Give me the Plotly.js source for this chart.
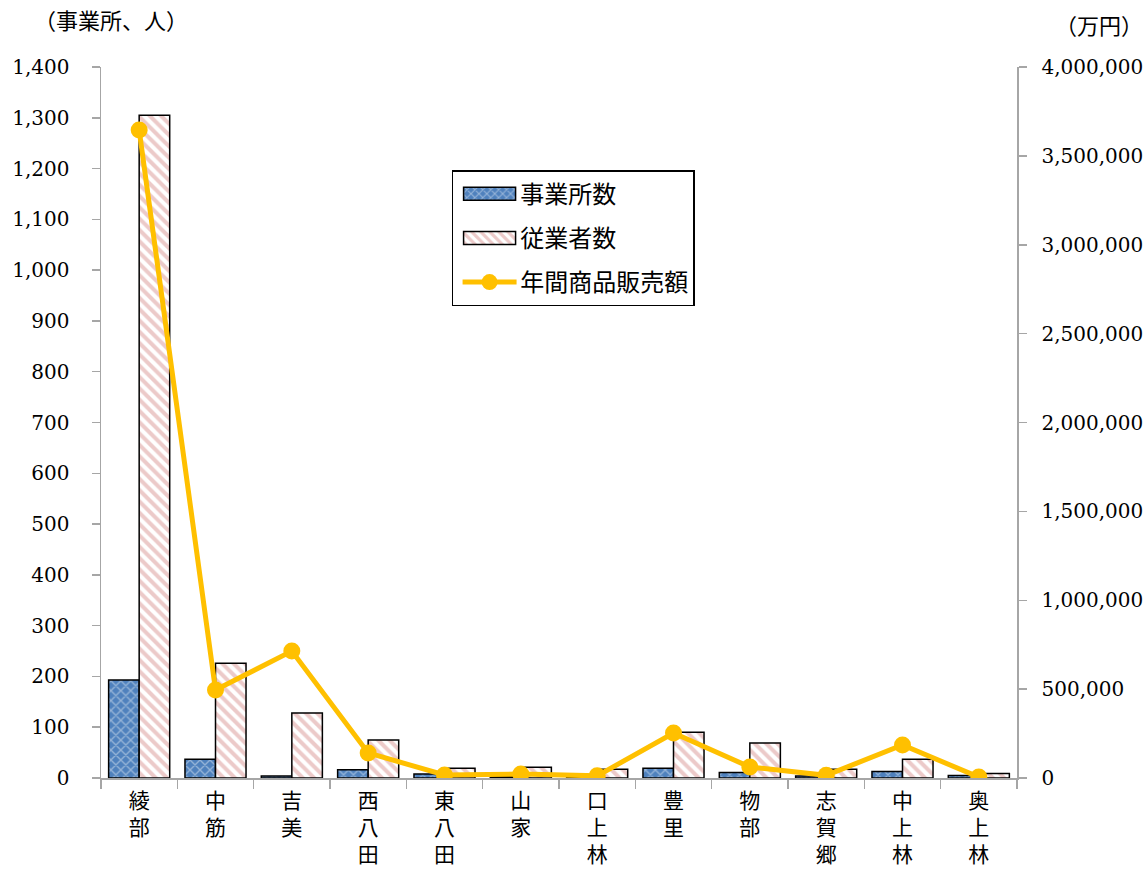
<!DOCTYPE html>
<html>
<head>
<meta charset="utf-8">
<script src="https://cdn.plot.ly/plotly-3.0.1.min.js"></script>
<style>html,body{margin:0;padding:0;background:#fff;}#chart{width:1147px;height:872px;}</style>
</head>
<body>
<div id="chart"></div>
<script>
const categories = ["綾部","中筋","吉美","西八田","東八田","山家","口上林","豊里","物部","志賀郷","中上林","奥上林"];
const establishments = [193, 37, 4, 16, 8, 3, 2, 19, 11, 4, 13, 5];
const employees = [1305, 226, 128, 75, 19, 21, 17, 90, 69, 17, 37, 9];
const sales = [3645000, 495000, 714000, 141000, 17000, 22000, 12000, 253000, 62000, 15000, 186000, 5000];
const leftTicks = [0,100,200,300,400,500,600,700,800,900,1000,1100,1200,1300,1400];
const rightTicks = [0,500000,1000000,1500000,2000000,2500000,3000000,3500000,4000000];

const fmt = v => v.toLocaleString('en-US');
const vertical = s => s.split('').join('<br>');
const numFont = '"DejaVu Serif", "Noto Sans CJK JP", serif';
const cjkFont = '"Noto Sans CJK JP", "DejaVu Serif", serif';

const traces = [
  {
    type: 'bar', name: '事業所数', x: categories, y: establishments, legendgroup: 'a',
    marker: {color: '#4f81bd', line: {color: '#000', width: 1.5},
      pattern: {shape: 'x', fgcolor: '#dce6f2', bgcolor: '#4f81bd', size: 7, solidity: 0.35, fillmode: 'overlay'}},
    hoverinfo: 'none'
  },
  {
    type: 'bar', name: '従業者数', x: categories, y: employees, legendgroup: 'b',
    marker: {color: '#ffffff', line: {color: '#000', width: 1.5},
      pattern: {shape: '\\', fgcolor: '#d99694', bgcolor: '#ffffff', size: 8, solidity: 0.5, fillmode: 'overlay'}},
    hoverinfo: 'none'
  },
  {
    type: 'scatter', mode: 'lines+markers', name: '年間商品販売額', x: categories, y: sales, yaxis: 'y2', legendgroup: 'c',
    line: {color: '#ffc000', width: 5}, marker: {color: '#ffc000', size: 17},
    hoverinfo: 'none'
  }
];

const layout = {
  width: 1147, height: 872,
  margin: {l: 101, r: 130, t: 67, b: 94},
  paper_bgcolor: '#fff', plot_bgcolor: '#fff',
  font: {family: numFont, size: 20, color: '#000'},
  barmode: 'group', bargap: 0.2, bargroupgap: 0,
  showlegend: true,
  legend: {x: 0.383, y: 0.855, xanchor: 'left', yanchor: 'top', bordercolor: '#000', borderwidth: 1.5,
    bgcolor: '#fff', font: {size: 24, family: cjkFont}, tracegroupgap: 10, itemwidth: 57,
    traceorder: 'grouped'},
  xaxis: {
    type: 'category', range: [-0.5, 11.5], tickmode: 'array', tickvals: categories, ticktext: categories.map(vertical),
    tickfont: {size: 21, family: cjkFont}, ticks: 'outside', tickson: 'boundaries', ticklen: 9,
    tickcolor: '#a6a6a6', tickwidth: 1.5, showline: true, linecolor: '#a6a6a6', linewidth: 1.5,
    showgrid: false, zeroline: false, fixedrange: true, ticklabelstandoff: 3
  },
  yaxis: {
    range: [0, 1400], tickmode: 'array', tickvals: leftTicks, ticktext: leftTicks.map(fmt),
    ticks: 'outside', ticklen: 8, tickcolor: '#a6a6a6', tickwidth: 1.5, showline: true,
    linecolor: '#a6a6a6', linewidth: 1.5, showgrid: false, zeroline: false,
    tickfont: {size: 20, family: numFont}, ticklabelstandoff: 18
  },
  yaxis2: {
    range: [0, 4000000], overlaying: 'y', side: 'right', tickmode: 'array', tickvals: rightTicks,
    ticktext: rightTicks.map(fmt), ticks: 'outside', ticklen: 8, tickcolor: '#a6a6a6', tickwidth: 1.5,
    showline: true, linecolor: '#a6a6a6', linewidth: 1.5, showgrid: false, zeroline: false,
    tickfont: {size: 20, family: numFont}, ticklabelstandoff: 11
  },
  annotations: [
    {text: '（事業所、人）', xref: 'paper', yref: 'paper', x: -0.075, y: 1.0, yshift: 48,
     xanchor: 'left', yanchor: 'middle', showarrow: false, font: {size: 22, family: cjkFont}},
    {text: '（万円）', xref: 'paper', yref: 'paper', x: 1.0, y: 1.0, xshift: 128, yshift: 43,
     xanchor: 'right', yanchor: 'middle', showarrow: false, font: {size: 22, family: cjkFont}}
  ]
};

Plotly.newPlot('chart', traces, layout, {displayModeBar: false, staticPlot: true}).then(gd => {
  // widen legend symbols to match the reference's wide swatches
  const bg = gd.querySelector('.legend .bg');
  if (!bg) return;
  const L = bg.getBoundingClientRect().left;
  const center = L + 37;
  gd.querySelectorAll('.legend .traces').forEach(tr => {
    tr.querySelectorAll('.legendpoints path').forEach(p => {
      const r = p.getBoundingClientRect();
      const cx = (r.left + r.right) / 2;
      const dx = center - cx;
      if (p.classList.contains('legendbar') || p.getAttribute('d').indexOf('H') >= 0 && !p.classList.contains('scatterpts')) {
        p.setAttribute('d', `M${dx - 26},6.5H${dx + 26}V-6.5H${dx - 26}Z`);
      } else {
        const t = p.getAttribute('transform') || '';
        p.setAttribute('transform', t + ` translate(${dx},0)`);
      }
    });
    const ln = tr.querySelector('.legendlines path');
    if (ln) {
      const r = ln.getBoundingClientRect();
      const local0 = 5 + (center - 27) - r.left;
      ln.setAttribute('d', `M${local0},0h54`);
    }
  });
});
</script>
</body>
</html>
